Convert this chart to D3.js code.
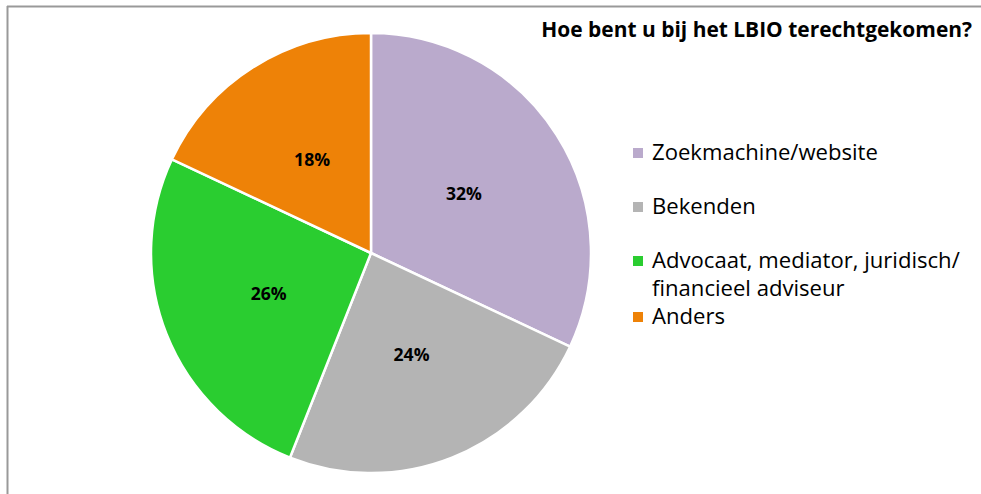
<!DOCTYPE html>
<html><head><meta charset="utf-8">
<script src="https://cdn.jsdelivr.net/npm/d3@7"></script>
<style>body{margin:0;background:#fff;}svg{display:block;}</style>
</head><body>
<script>
const categories = ["Zoekmachine/website", "Bekenden", "Advocaat, mediator, juridisch/ financieel adviseur", "Anders"];
const legendLines = [["Zoekmachine/website"], ["Bekenden"], ["Advocaat, mediator, juridisch/", "financieel adviseur"], ["Anders"]];
const values = [32, 24, 26, 18];
const colors = ["#BAAACC", "#B4B4B4", "#2ACD30", "#EE8207"];
const title = "Hoe bent u bij het LBIO terechtgekomen?";

const W = 981, H = 494;
const svg = d3.select("body").append("svg").attr("width", W).attr("height", H);
const font = "'Open Sans', sans-serif";

function fitSize(txt, weight, target, base) {
  const t = svg.append("text").attr("font-family", font).attr("font-weight", weight)
    .attr("font-size", base).text(txt);
  const w = t.node().getComputedTextLength();
  t.remove();
  return base * target / w;
}

// frame
svg.append("line").attr("x1", 7).attr("x2", W).attr("y1", 6.5).attr("y2", 6.5).attr("stroke", "#999").attr("stroke-width", 2);
svg.append("line").attr("x1", 7.5).attr("x2", 7.5).attr("y1", 6).attr("y2", H).attr("stroke", "#999").attr("stroke-width", 2);

const cx = 371, cy = 253, R = 220;
const pie = d3.pie().sort(null).value(d => d)(values);
const arc = d3.arc().innerRadius(0).outerRadius(R);
const g = svg.append("g").attr("transform", `translate(${cx},${cy})`);
g.selectAll("path").data(pie).join("path")
  .attr("d", arc).attr("fill", (d, i) => colors[i])
  .attr("stroke", "#fff").attr("stroke-width", 2.5).attr("stroke-linejoin", "round");
const labSize = fitSize("32%", "bold", 36, 16);
g.selectAll("text").data(pie).join("text")
  .attr("transform", d => `translate(${arc.centroid(d)})`)
  .attr("text-anchor", "middle").attr("dy", "0.35em")
  .attr("font-family", font).attr("font-weight", "bold").attr("font-size", labSize).attr("fill", "#000")
  .text(d => d.data + "%");

// title
const titleSize = fitSize(title, "bold", 431, 18);
svg.append("text").attr("x", 972).attr("y", 37).attr("text-anchor", "end")
  .attr("font-family", font).attr("font-weight", "bold").attr("font-size", titleSize).attr("fill", "#000")
  .text(title);

// legend
const legSize = fitSize("Zoekmachine/website", "normal", 226, 20);
const legY = [160, 214, 268, 324];
const lg = svg.append("g");
legendLines.forEach((lines, i) => {
  lg.append("rect").attr("x", 633).attr("y", legY[i] - 12).attr("width", 10).attr("height", 10).attr("fill", colors[i]);
  const t = lg.append("text").attr("x", 652).attr("y", legY[i])
    .attr("font-family", font).attr("font-size", legSize).attr("fill", "#000");
  lines.forEach((l, j) => t.append("tspan").attr("x", 652).attr("dy", j === 0 ? 0 : 28).text(l));
});
</script>
</body></html>
